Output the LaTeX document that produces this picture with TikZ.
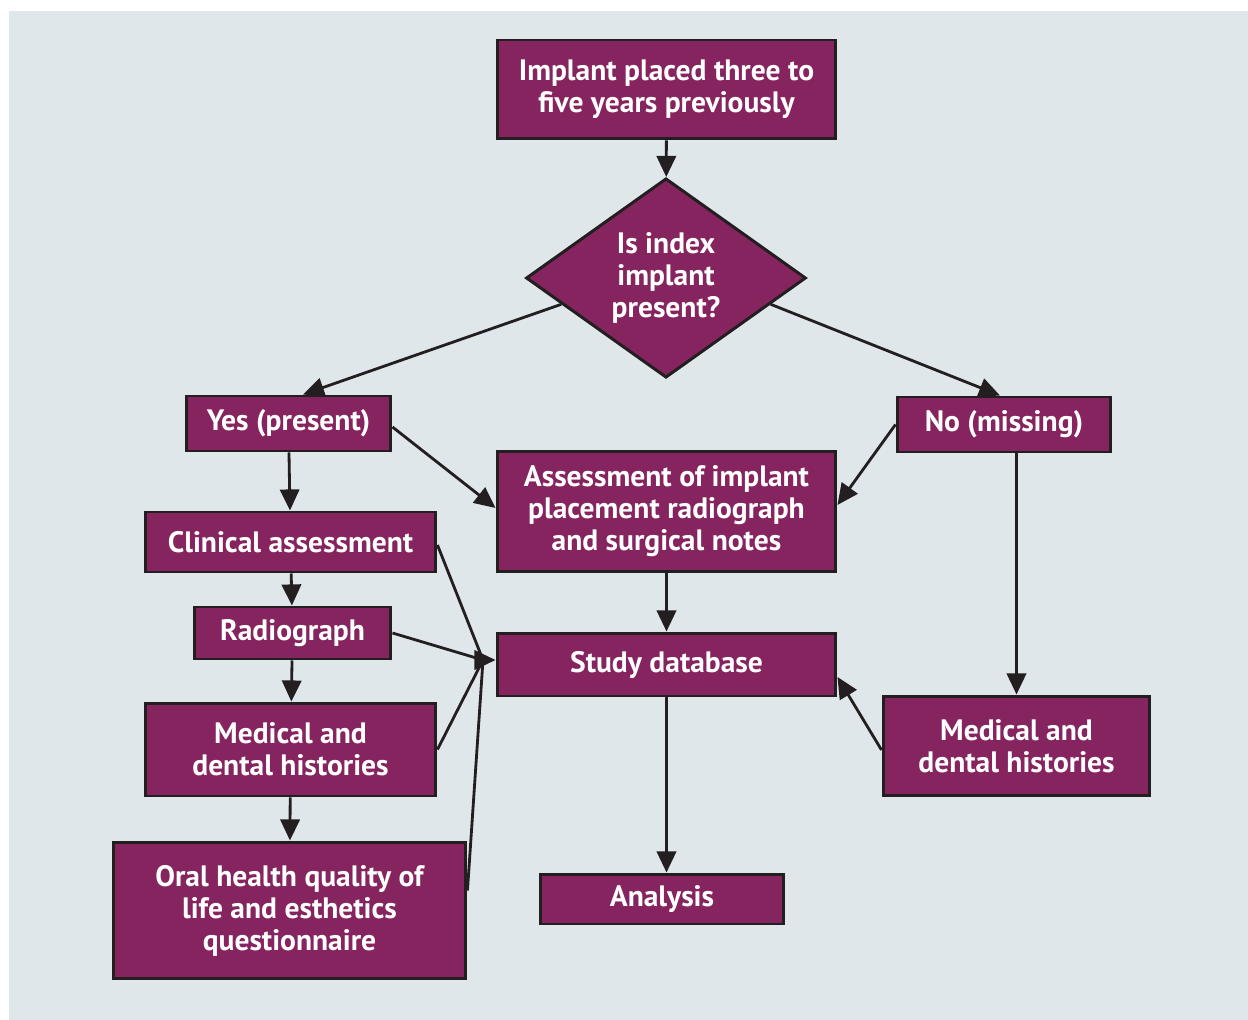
\documentclass[tikz,border=0pt]{standalone}
\usepackage{fontspec}
\setmainfont{PT Sans}
\usetikzlibrary{shapes.geometric,arrows.meta,calc}

\definecolor{plum}{HTML}{85245F}
\definecolor{panel}{HTML}{E0E7EA}
\definecolor{ink}{HTML}{231F20}

\begin{document}
\begin{tikzpicture}[x=0.02cm,y=-0.02cm,
    box/.style={draw=ink,line width=1.7pt,fill=plum,text=white,align=center,
        inner sep=0pt,font=\fontsize{16.8}{18.2}\selectfont\bfseries},
    decision/.style={box,diamond},
    arrow/.style={draw=ink,line width=1.6pt,-{Triangle[length=12pt,width=11pt]}},
    link/.style={draw=ink,line width=1.6pt}]

    % Background panel
    \useasboundingbox (0,0) rectangle (1248,1020);
    \fill[panel] (9,11) rectangle (1248,1020);

    % Top of the chart
    \node[box,minimum width=6.78cm,minimum height=1.98cm] (implant) at (666.5,89.5)
        {Implant placed three to\\five years previously};
    \node[decision,minimum width=5.6cm,minimum height=3.68cm] (index) at (666,278)
        {Is index\\implant\\present?};

    % The two branches
    \node[box,minimum width=4.1cm,minimum height=1.1cm] (yes) at (288.5,423.5) {Yes (present)};
    \node[box,minimum width=4.28cm,minimum height=1.1cm] (no) at (1004,424.5) {No (missing)};
    \node[box,minimum width=6.78cm,minimum height=2.42cm] (assess) at (666.5,511.5)
        {Assessment of implant\\placement radiograph\\and surgical notes};

    % Left column
    \node[box,minimum width=5.82cm,minimum height=1.2cm] (clinical) at (290.5,542) {Clinical assessment};
    \node[box,minimum width=3.94cm,minimum height=1.04cm] (radio) at (292.5,633) {Radiograph};
    \node[box,minimum width=5.82cm,minimum height=1.86cm] (histleft) at (290.5,749.5)
        {Medical and\\dental histories};
    \node[box,minimum width=7.06cm,minimum height=2.74cm] (oral) at (289.5,910.5)
        {Oral health quality of\\life and esthetics\\questionnaire};

    % Database and analysis
    \node[box,minimum width=6.78cm,minimum height=1.26cm] (database) at (666.5,664.5) {Study database};
    \node[box,minimum width=4.88cm,minimum height=1cm] (analysis) at (662,899) {Analysis};

    % Right column
    \node[box,minimum width=5.34cm,minimum height=2cm] (histright) at (1016.5,746)
        {Medical and\\dental histories};

    \coordinate (merge) at (483,660);

    % Connectors
    \draw[arrow] (implant) -- (index);
    \draw[arrow] ($(index.west)!0.26!(index.south)$) -- ([xshift=0.29cm]yes.north);
    \draw[arrow] ($(index.east)!0.26!(index.south)$) -- ([xshift=-0.08cm]no.north);
    \draw[arrow] ([yshift=-0.07cm]yes.east) -- ([yshift=0.07cm]assess.west);
    \draw[arrow] (no.west) -- ([yshift=0.13cm]assess.east);
    \draw[arrow] (yes) -- (clinical);
    \draw[arrow] (clinical) -- (radio);
    \draw[arrow] (radio) -- (histleft);
    \draw[arrow] (histleft) -- (oral);
    \draw[link] ([yshift=-0.06cm]clinical.east) -- (merge);
    \draw[link] (radio.east) -- (merge);
    \draw[link] (histleft.east) -- (merge);
    \draw[link] ([yshift=0.4cm]oral.east) -- (merge);
    \draw[arrow] (merge) -- (merge -| database.west);
    \draw[arrow] (assess) -- (assess |- database.north);
    \draw[arrow] (database.south) -- (database.south |- analysis.north);
    \draw[arrow] (histright.north |- no.south) -- (histright.north);
    \draw[arrow] ([yshift=-0.08cm]histright.west) -- ([yshift=-0.25cm]database.east);
\end{tikzpicture}
\end{document}
